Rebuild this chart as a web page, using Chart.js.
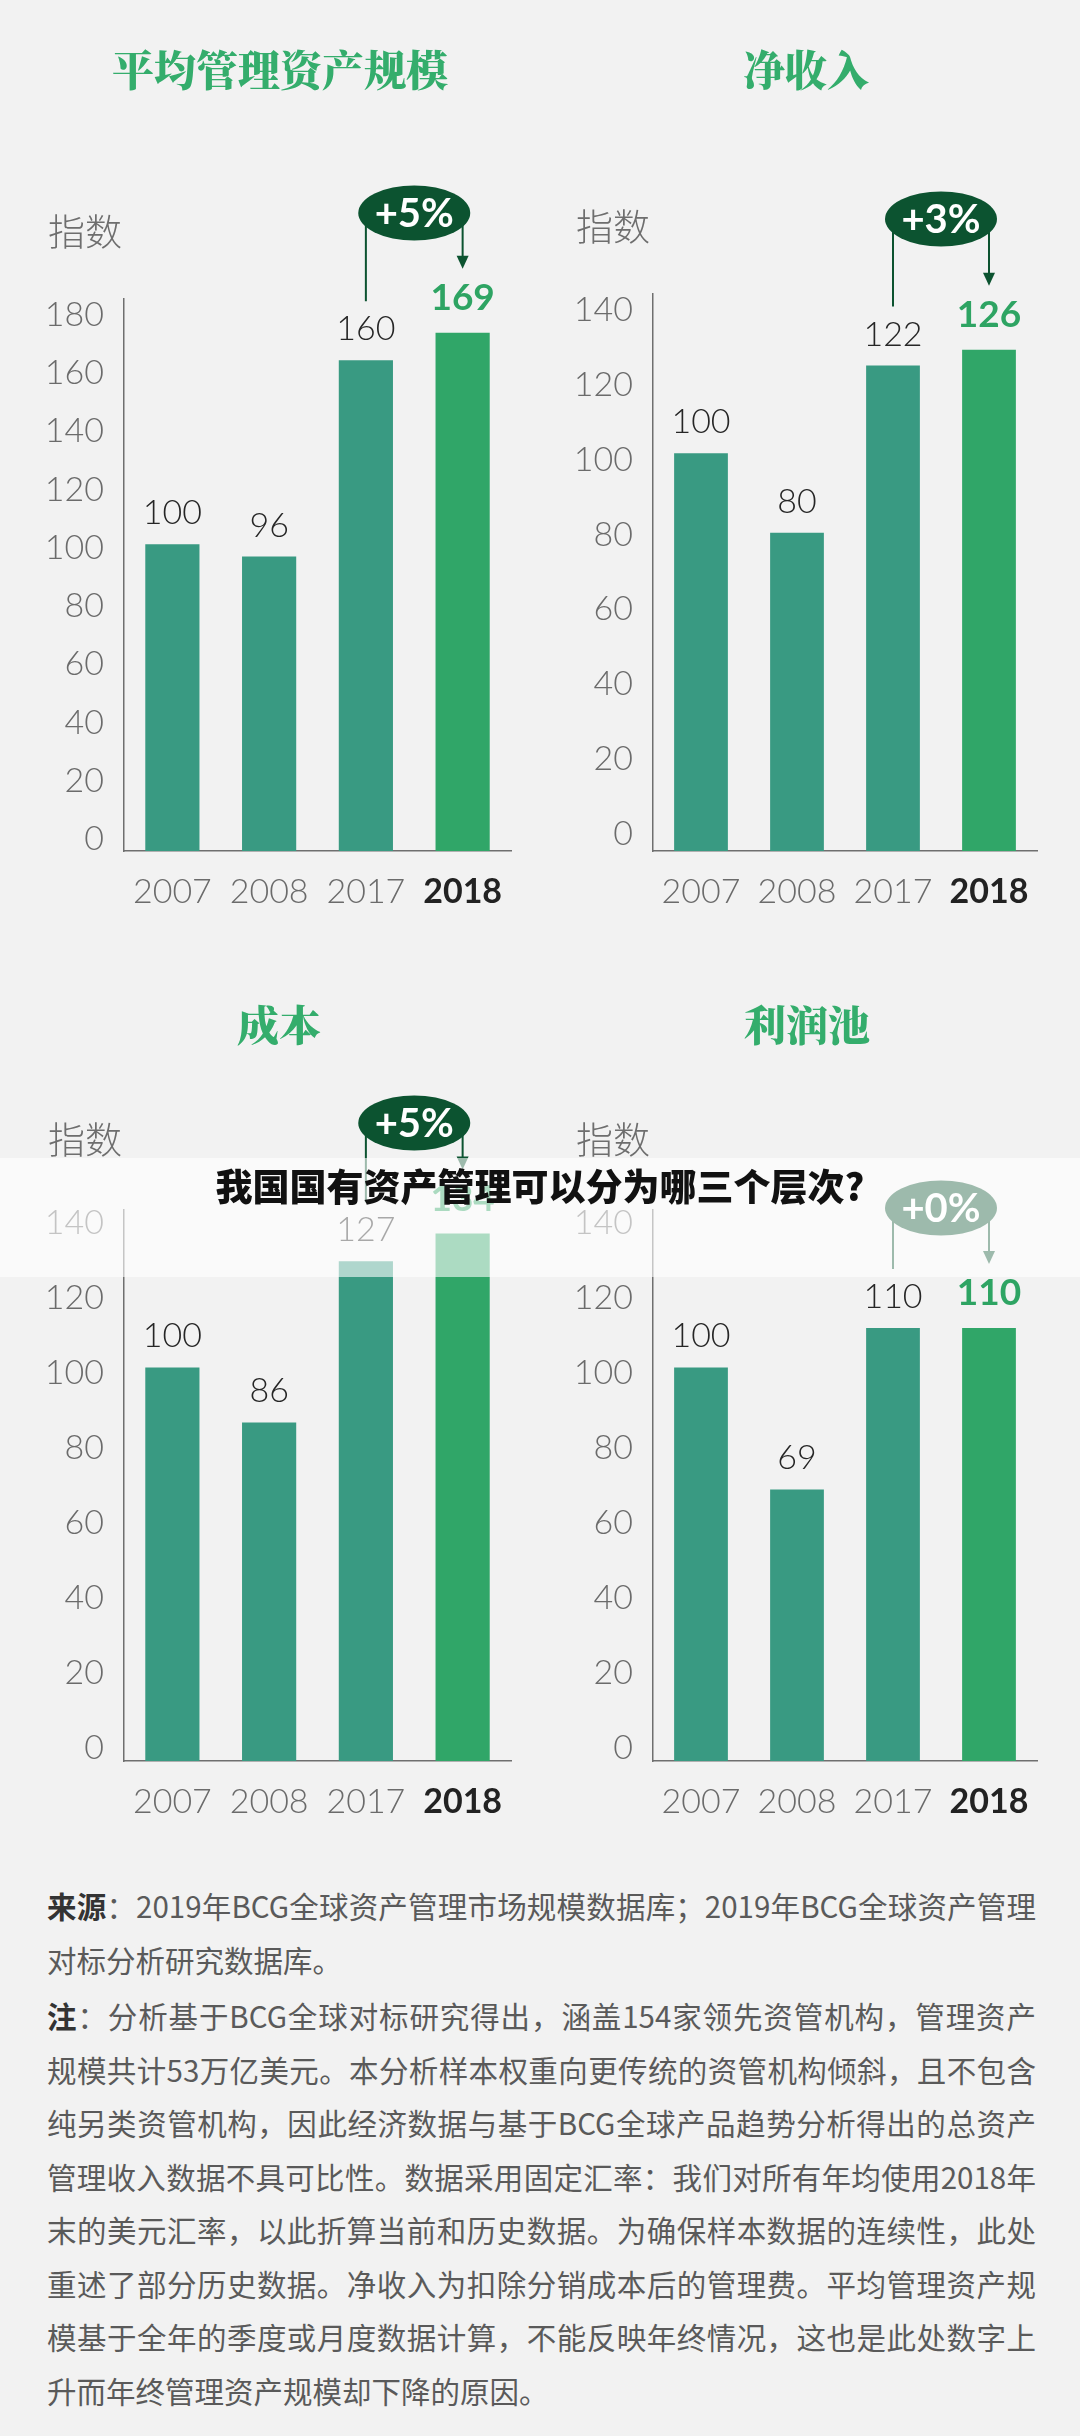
<!DOCTYPE html>
<html>
<head>
<meta charset="utf-8">
<script src="https://cdn.jsdelivr.net/npm/chart.js@4.4.0/dist/chart.umd.min.js"></script>
<style>
  html, body { margin: 0; padding: 0; background: #f2f2f2; }
  body { width: 1080px; height: 2436px; position: relative; overflow: hidden; }
  canvas { position: absolute; }
  #band {
    position: absolute; left: 0; top: 1158px; width: 1080px; height: 119px;
    background: rgba(255, 255, 255, 0.6);
    text-align: center; line-height: 119px;
    font: 900 37px "Noto Sans CJK SC", sans-serif; color: #111;
  }
  #notes {
    position: absolute; left: 47px; top: 1879px; width: 989px;
    font: 400 29.5px/53.5px "Noto Sans CJK SC", sans-serif; color: #5a5a5a;
  }
  #notes div { white-space: nowrap; text-align: justify; text-align-last: justify; }
  #notes div.last { text-align-last: left; }
  #notes b { color: #333; font-weight: 700; }
  #notes .gap { margin-top: 3px; }
</style>
</head>
<body>
<canvas id="c1" width="540" height="940" style="left:0;top:0"></canvas>
<canvas id="c2" width="540" height="940" style="left:540px;top:0"></canvas>
<canvas id="c3" width="540" height="910" style="left:0;top:940px"></canvas>
<canvas id="c4" width="540" height="910" style="left:540px;top:940px"></canvas>

<div id="band">我国国有资产管理可以分为哪三个层次?</div>

<div id="notes">
  <div><b>来源</b>：2019年BCG全球资产管理市场规模数据库；2019年BCG全球资产管理</div>
  <div class="last">对标分析研究数据库。</div>
  <div class="gap"><b>注</b>：分析基于BCG全球对标研究得出，涵盖154家领先资管机构，管理资产</div>
  <div>规模共计53万亿美元。本分析样本权重向更传统的资管机构倾斜，且不包含</div>
  <div>纯另类资管机构，因此经济数据与基于BCG全球产品趋势分析得出的总资产</div>
  <div>管理收入数据不具可比性。数据采用固定汇率：我们对所有年均使用2018年</div>
  <div>末的美元汇率，以此折算当前和历史数据。为确保样本数据的连续性，此处</div>
  <div>重述了部分历史数据。净收入为扣除分销成本后的管理费。平均管理资产规</div>
  <div>模基于全年的季度或月度数据计算，不能反映年终情况，这也是此处数字上</div>
  <div class="last">升而年终管理资产规模却下降的原因。</div>
</div>

<script>
const years = ["2007", "2008", "2017", "2018"];
const aumIndex = [100, 96, 160, 169];      // 平均管理资产规模
const revenueIndex = [100, 80, 122, 126];  // 净收入
const costIndex = [100, 86, 127, 134];     // 成本
const profitIndex = [100, 69, 110, 110];   // 利润池
const growthText = ["+5%", "+3%", "+5%", "+0%"];
const panelTitles = ["平均管理资产规模", "净收入", "成本", "利润池"];
const axisMax = [180, 140, 140, 140];
const tickStep = 20;

const TEAL = "#399a82";
const GREEN = "#30a668";
const DARK = "#0c5330";
const X_AXIS_H = 89;

// 各パネルの配置 (labelTop/labelZero: 目盛り文字の位置、原図では少し内側に寄っている)
const panels = [
  { id: "c1", values: aumIndex,     h: 940, padTop: 299, padRight: 29, yWidth: 124, titleX: 280, titleY: 70, unitX: 48, unitY: 232, bubbleY: 213, labelTop: 315, labelZero: 839 },
  { id: "c2", values: revenueIndex, h: 940, padTop: 294, padRight: 43, yWidth: 113, titleX: 266, titleY: 70, unitX: 36, unitY: 227, bubbleY: 219, labelTop: 310, labelZero: 834 },
  { id: "c3", values: costIndex,    h: 910, padTop: 270, padRight: 29, yWidth: 124, titleX: 279, titleY: 85, unitX: 48, unitY: 200, bubbleY: 183, labelTop: 283, labelZero: 808 },
  { id: "c4", values: profitIndex,  h: 910, padTop: 270, padRight: 43, yWidth: 113, titleX: 267, titleY: 85, unitX: 36, unitY: 200, bubbleY: 268, labelTop: 283, labelZero: 808 }
];

const decor = {
  id: "decor",
  afterDatasetsDraw(chart, args, opts) {
    const ctx = chart.ctx;
    const bars = chart.getDatasetMeta(0).data;
    const vals = chart.data.datasets[0].data;
    const lastIdx = vals.length - 1;
    ctx.save();
    ctx.textAlign = "center";
    ctx.textBaseline = "middle";

    // title
    ctx.font = '900 42px "Noto Serif CJK SC", "Noto Sans CJK SC"';
    ctx.fillStyle = "#34ad6c";
    ctx.fillText(opts.title, opts.titleX, opts.titleY);

    // 指数
    ctx.textAlign = "left";
    ctx.font = '300 37px "Noto Sans CJK SC"';
    ctx.fillStyle = "#6e6e6e";
    ctx.fillText("指数", opts.unitX, opts.unitY);
    ctx.textAlign = "center";

    // value labels
    bars.forEach((bar, i) => {
      const last = i === lastIdx;
      ctx.font = last ? "700 37px Lato" : "300 34px Lato";
      ctx.fillStyle = last ? "#2ea463" : "#262626";
      ctx.fillText(String(vals[i]), bar.x, bar.y - (last ? 35 : 31));
    });

    // growth bubble + connectors
    const b3 = bars[lastIdx - 1], b4 = bars[lastIdx];
    const cx = (b3.x + b4.x) / 2, cy = opts.bubbleY;
    const leftEnd = b3.y - 31 - 28;
    const tipY = b4.y - 35 - 29;
    ctx.strokeStyle = DARK;
    ctx.fillStyle = DARK;
    ctx.lineWidth = 2;
    ctx.beginPath();
    ctx.moveTo(b3.x, cy); ctx.lineTo(b3.x, leftEnd);
    ctx.moveTo(b4.x, cy); ctx.lineTo(b4.x, tipY - 10);
    ctx.stroke();
    ctx.beginPath();
    ctx.moveTo(b4.x - 6, tipY - 13);
    ctx.lineTo(b4.x + 6, tipY - 13);
    ctx.lineTo(b4.x, tipY);
    ctx.closePath();
    ctx.fill();
    ctx.beginPath();
    ctx.ellipse(cx, cy, 56, 27.5, 0, 0, Math.PI * 2);
    ctx.fill();
    ctx.font = "700 40px Lato";
    ctx.fillStyle = "#ffffff";
    ctx.fillText(opts.growth, cx, cy + 1);
    ctx.restore();
  }
};

Chart.defaults.font.family = "Lato";

panels.forEach((p, k) => {
  // tick label axis: same plot height, labels spaced like the original artwork
  const areaTop = p.padTop, areaBottom = p.h - X_AXIS_H;
  const pxPerUnit = (p.labelZero - p.labelTop) / axisMax[k];
  const labelMin = -(areaBottom - p.labelZero) / pxPerUnit;
  const labelMax = labelMin + (areaBottom - areaTop) / pxPerUnit;

  new Chart(document.getElementById(p.id), {
    type: "bar",
    data: {
      labels: years,
      datasets: [{
        data: p.values,
        backgroundColor: p.values.map((v, i) => i === p.values.length - 1 ? GREEN : TEAL),
        barPercentage: 0.56,
        categoryPercentage: 1
      }]
    },
    options: {
      responsive: false,
      animation: false,
      layout: { padding: { top: p.padTop, right: p.padRight, left: 0, bottom: 0 } },
      plugins: {
        legend: { display: false },
        tooltip: { enabled: false },
        decor: {
          title: panelTitles[k], titleX: p.titleX, titleY: p.titleY,
          unitX: p.unitX, unitY: p.unitY, bubbleY: p.bubbleY, growth: growthText[k]
        }
      },
      scales: {
        x: {
          grid: { display: false, drawTicks: false },
          border: { color: "#6f6f6f", width: 1.5 },
          ticks: {
            padding: 21,
            color: c => c.index === years.length - 1 ? "#222" : "#6b6b6b",
            font: c => ({ family: "Lato", size: 34, weight: c.index === years.length - 1 ? "700" : "300" })
          },
          afterFit: s => { s.height = X_AXIS_H; }
        },
        y: {
          min: 0,
          max: axisMax[k],
          grid: { display: false, drawTicks: false },
          border: { color: "#6f6f6f", width: 1.5 },
          ticks: { display: false },
          afterFit: s => { s.width = 0; }
        },
        yLabels: {
          type: "linear",
          position: "left",
          weight: 1,
          min: labelMin,
          max: labelMax,
          grid: { display: false, drawTicks: false },
          border: { display: false },
          ticks: {
            stepSize: tickStep, includeBounds: false, padding: 20,
            color: "#6b6b6b", font: { family: "Lato", size: 34, weight: "300" }
          },
          afterFit: s => { s.width = p.yWidth; }
        }
      }
    },
    plugins: [decor]
  });
});
</script>
</body>
</html>
